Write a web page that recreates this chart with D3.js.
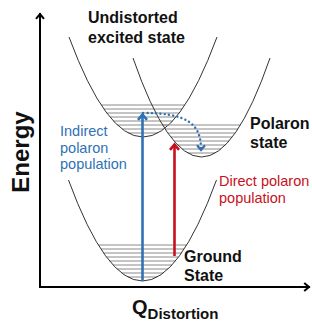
<!DOCTYPE html>
<html>
<head>
<meta charset="utf-8">
<script src="https://cdn.jsdelivr.net/npm/d3@7"></script>
<style>
  body { margin: 0; background: #fff; }
  text { font-family: "Liberation Sans", Arial, sans-serif; }
</style>
</head>
<body>
<svg id="diagram" width="312" height="321"></svg>
<script>
// potential wells: Q of minimum, energy of minimum, energy at arm tops, half width at top
var wellNames = ["ground", "excited", "polaron"];
var wellCenters = [10.25, 10.3, 16.15];
var wellMinima = [0.6, 15.0, 13.0];
var wellTops = [10.7, 25.0, 22.9];
var wellHalfWidths = [7.4, 7.4, 6.85];

// vibrational levels in each well
var groundLevels = [1.0, 1.4, 1.8, 2.2, 2.6, 3.0, 3.4, 3.8, 4.2];
var excitedLevels = [15.4, 15.8, 16.2, 16.6, 17.0, 17.4, 17.8, 18.2];
var polaronLevels = [13.4, 13.8, 14.2, 14.6, 15.0, 15.4, 15.8, 16.2];
var wellLevels = [groundLevels, excitedLevels, polaronLevels];

// transitions [Q, energy from, energy to]
var indirectArrow = [10.25, 0.6, 17.4];
var directArrow = [13.45, 3.1, 14.4];
// relaxation (dotted) bezier points [Q, energy]
var relaxPoints = [[10.3, 17.4], [14.6, 17.4], [16.1, 16.4], [16.1, 13.8]];

var excitedLabel = ["Undistorted", "excited state"];
var polaronLabel = ["Polaron", "state"];
var groundLabel = ["Ground", "State"];
var indirectLabel = ["Indirect", "polaron", "population"];
var directLabel = ["Direct polaron", "population"];

var blue = "#2f72b3";
var red = "#c8101c";

var xScale = d3.scaleLinear().domain([0, 27]).range([40, 310]);
var yScale = d3.scaleLinear().domain([0, 27.4]).range([287, 13]);

var svg = d3.select("#diagram");

var drawWells = function() {
    var g = svg.append("g").attr("class", "wells");
    wellNames.forEach(function(name, i) {
        var c = wellCenters[i], m = wellMinima[i], t = wellTops[i], w = wellHalfWidths[i];
        var k = (t - m) / (w * w);
        var lv = g.append("g").attr("class", name + "-levels");
        lv.selectAll("line")
            .data(wellLevels[i])
            .enter()
            .append("line")
            .attr("x1", function(d) { return xScale(c - Math.sqrt((d - m) / k)); })
            .attr("x2", function(d) { return xScale(c + Math.sqrt((d - m) / k)); })
            .attr("y1", function(d) { return yScale(d); })
            .attr("y2", function(d) { return yScale(d); })
            .attr("stroke", "#8a8a8a")
            .attr("stroke-width", 1);
        // parabola as a quadratic bezier
        var p = d3.path();
        p.moveTo(xScale(c - w), yScale(t));
        p.quadraticCurveTo(xScale(c), yScale(2 * m - t), xScale(c + w), yScale(t));
        g.append("path")
            .attr("d", p.toString())
            .attr("fill", "none")
            .attr("stroke", "#333")
            .attr("stroke-width", 1);
    });
};

var chevron = function(g, x, y, dir, color, size, width) {
    // dir: "up", "down", "right"
    var p = d3.path();
    if (dir == "up") {
        p.moveTo(x - size, y + size * 1.2); p.lineTo(x, y); p.lineTo(x + size, y + size * 1.2);
    } else if (dir == "down") {
        p.moveTo(x - size, y - size * 1.2); p.lineTo(x, y); p.lineTo(x + size, y - size * 1.2);
    } else {
        p.moveTo(x - size * 1.2, y - size); p.lineTo(x, y); p.lineTo(x - size * 1.2, y + size);
    }
    g.append("path")
        .attr("d", p.toString())
        .attr("fill", "none")
        .attr("stroke", color)
        .attr("stroke-width", width)
        .attr("stroke-linejoin", "miter");
};

var drawAxes = function() {
    var g = svg.append("g").attr("class", "axes");
    g.append("line")
        .attr("x1", xScale(0)).attr("x2", xScale(0))
        .attr("y1", yScale(0) + 1).attr("y2", yScale(27.4))
        .attr("stroke", "#000").attr("stroke-width", 2);
    g.append("line")
        .attr("x1", xScale(0) - 1).attr("x2", xScale(27))
        .attr("y1", yScale(0)).attr("y2", yScale(0))
        .attr("stroke", "#000").attr("stroke-width", 2);
    chevron(g, xScale(0), yScale(27.4) + 1, "up", "#000", 4, 2);
    chevron(g, xScale(27) - 1, yScale(0), "right", "#000", 4, 2);
};

var drawArrows = function() {
    var g = svg.append("g").attr("class", "transitions");
    [[indirectArrow, blue], [directArrow, red]].forEach(function(a) {
        var d = a[0];
        g.append("line")
            .attr("x1", xScale(d[0])).attr("x2", xScale(d[0]))
            .attr("y1", yScale(d[1])).attr("y2", yScale(d[2]) + 1)
            .attr("stroke", a[1]).attr("stroke-width", 2.6);
        chevron(g, xScale(d[0]), yScale(d[2]) + 1.5, "up", a[1], 4.5, 2.6);
    });
    var p = d3.path();
    var pts = relaxPoints.map(function(d) { return [xScale(d[0]), yScale(d[1])]; });
    p.moveTo(pts[0][0], pts[0][1]);
    p.bezierCurveTo(pts[1][0], pts[1][1], pts[2][0], pts[2][1], pts[3][0], pts[3][1]);
    g.append("path")
        .attr("d", p.toString())
        .attr("fill", "none")
        .attr("stroke", blue)
        .attr("stroke-width", 2.4)
        .attr("stroke-dasharray", "0.1,4.2")
        .attr("stroke-linecap", "round");
    chevron(g, pts[3][0], pts[3][1] + 1, "down", blue, 4, 2.2);
};

var createLabels = function() {
    var labels = svg.append("g").attr("class", "labels");
    var block = function(lines, x, y, step, size, weight, color) {
        labels.append("g").selectAll("text")
            .data(lines)
            .enter()
            .append("text")
            .text(function(d) { return d; })
            .attr("x", x)
            .attr("y", function(d, i) { return y + i * step; })
            .attr("font-size", size)
            .attr("font-weight", weight)
            .attr("fill", color);
    };
    block(excitedLabel, 88, 23, 19.5, 16, "bold", "#111");
    block(polaronLabel, 250, 129, 18.5, 16, "bold", "#111");
    block(groundLabel, 184, 262, 18.5, 16, "bold", "#111");
    block(indirectLabel, 60, 136, 16.6, 14.5, "normal", blue);
    block(directLabel, 219, 186, 16.8, 14.5, "normal", red);

    labels.append("text")
        .text("Energy")
        .attr("transform", "translate(28.5,152) rotate(-90)")
        .attr("text-anchor", "middle")
        .attr("font-size", 24)
        .attr("font-weight", "bold")
        .attr("fill", "#111");

    var q = labels.append("text")
        .attr("x", 132)
        .attr("y", 314)
        .attr("font-weight", "bold")
        .attr("fill", "#111");
    q.append("tspan").attr("font-size", 20).text("Q");
    q.append("tspan").attr("font-size", 15).attr("dy", 5).text("Distortion");
};

drawWells();
drawAxes();
drawArrows();
createLabels();
</script>
</body>
</html>
